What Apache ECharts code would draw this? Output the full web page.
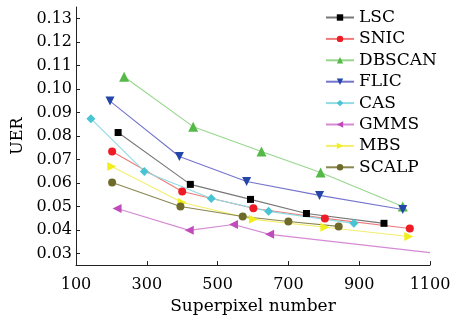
<!DOCTYPE html>
<html>
<head>
<meta charset="utf-8">
<script src="https://cdn.jsdelivr.net/npm/echarts@6/dist/echarts.min.js"></script>
<style>
  html, body { margin: 0; padding: 0; background: #fff; }
  #main { width: 466px; height: 320px; }
</style>
</head>
<body>
<div id="main"></div>
<script>
// values: [superpixel number, UER]
const lsc = [[219, 0.0815], [423, 0.0594], [593, 0.0530], [751, 0.0470], [970, 0.0428]];
const snic = [[202, 0.0734], [400, 0.0564], [601, 0.0492], [803, 0.0449], [1043, 0.0406]];
const dbscan = [[236, 0.1053], [431, 0.0840], [624, 0.0734], [791, 0.0645], [1023, 0.0500]];
const flic = [[196, 0.0949], [392, 0.0713], [582, 0.0606], [788, 0.0547], [1023, 0.0487]];
const cas = [[142, 0.0874], [293, 0.0649], [482, 0.0534], [644, 0.0479], [885, 0.0428]];
const gmms = [[216, 0.0491], [420, 0.0398], [545, 0.0423], [647, 0.0381], [1100, 0.0303]];
const mbs = [[201, 0.0670], [400, 0.0517], [601, 0.0445], [803, 0.0411], [1040, 0.0372]];
const scalp = [[202, 0.0602], [395, 0.0500], [571, 0.0457], [700, 0.0436], [842, 0.0415]];

const yTicks = [0.03, 0.04, 0.05, 0.06, 0.07, 0.08, 0.09, 0.10, 0.11, 0.12, 0.13];

const font = 'DejaVu Serif';

function mkSeries(name, data, symbol, markColor, lineColor, size) {
  return {
    name: name,
    type: 'line',
    data: data,
    symbol: symbol,
    symbolSize: size,
    showSymbol: true,
    itemStyle: { color: markColor },
    lineStyle: { color: lineColor, width: 1.1 },
    emphasis: { disabled: true },
    animation: false,
  };
}

// last GMMS point is where the line runs off the axis, no marker there
const gmmsData = gmms.map((p, i) => (i === gmms.length - 1 ? { value: p, symbol: 'none' } : p));

const chart = echarts.init(document.getElementById('main'), null, { renderer: 'canvas' });
chart.setOption({
  backgroundColor: '#fff',
  animation: false,
  grid: { left: 76, right: 36, top: 7, bottom: 54 },
  legend: {
    orient: 'vertical',
    left: 320,
    top: 4,
    itemWidth: 28,
    itemHeight: 8,
    itemGap: 4.4,
    textStyle: { fontFamily: font, fontSize: 17, color: '#000' },
    data: ['LSC', 'SNIC', 'DBSCAN', 'FLIC', 'CAS', 'GMMS', 'MBS', 'SCALP'],
  },
  xAxis: {
    type: 'value',
    min: 100,
    max: 1100,
    interval: 200,
    name: 'Superpixel number',
    nameLocation: 'middle',
    nameGap: 30,
    nameTextStyle: { fontFamily: font, fontSize: 17, color: '#000' },
    axisLine: { lineStyle: { color: '#222', width: 1 } },
    axisTick: { inside: true, length: 4, lineStyle: { color: '#222' } },
    axisLabel: { fontFamily: font, fontSize: 16, color: '#000', margin: 12, formatter: v => String(v) },
    splitLine: { show: false },
  },
  yAxis: {
    type: 'value',
    min: 0.025,
    max: 0.135,
    name: 'UER',
    nameLocation: 'middle',
    nameGap: 48,
    nameTextStyle: { fontFamily: font, fontSize: 16, color: '#000' },
    axisLine: { show: true, lineStyle: { color: '#222', width: 1 } },
    axisTick: { inside: true, length: 4, customValues: yTicks, lineStyle: { color: '#222' } },
    axisLabel: {
      fontFamily: font, fontSize: 16, color: '#000', margin: 4,
      customValues: yTicks,
      formatter: v => v.toFixed(2),
    },
    splitLine: { show: false },
  },
  series: [
    mkSeries('LSC', lsc, 'rect', '#000000', '#777777', 7),
    mkSeries('SNIC', snic, 'circle', '#ee1c24', '#f07a7a', 8),
    mkSeries('DBSCAN', dbscan, 'triangle', '#55b948', '#98d68e', 10),
    mkSeries('FLIC', flic, 'path://M0,0 L10,0 L5,9 Z', '#2346a8', '#7474cc', 9),
    mkSeries('CAS', cas, 'diamond', '#48c4d4', '#8fdbe4', 9),
    mkSeries('GMMS', gmmsData, 'path://M0,5 L9,0 L9,10 Z', '#c04cbc', '#d58ad3', 9),
    mkSeries('MBS', mbs, 'path://M0,0 L9,5 L0,10 Z', '#f2ee1c', '#f3ef6c', 9),
    mkSeries('SCALP', scalp, 'circle', '#6e6a2a', '#8a8650', 8),
  ],
});
</script>
</body>
</html>
